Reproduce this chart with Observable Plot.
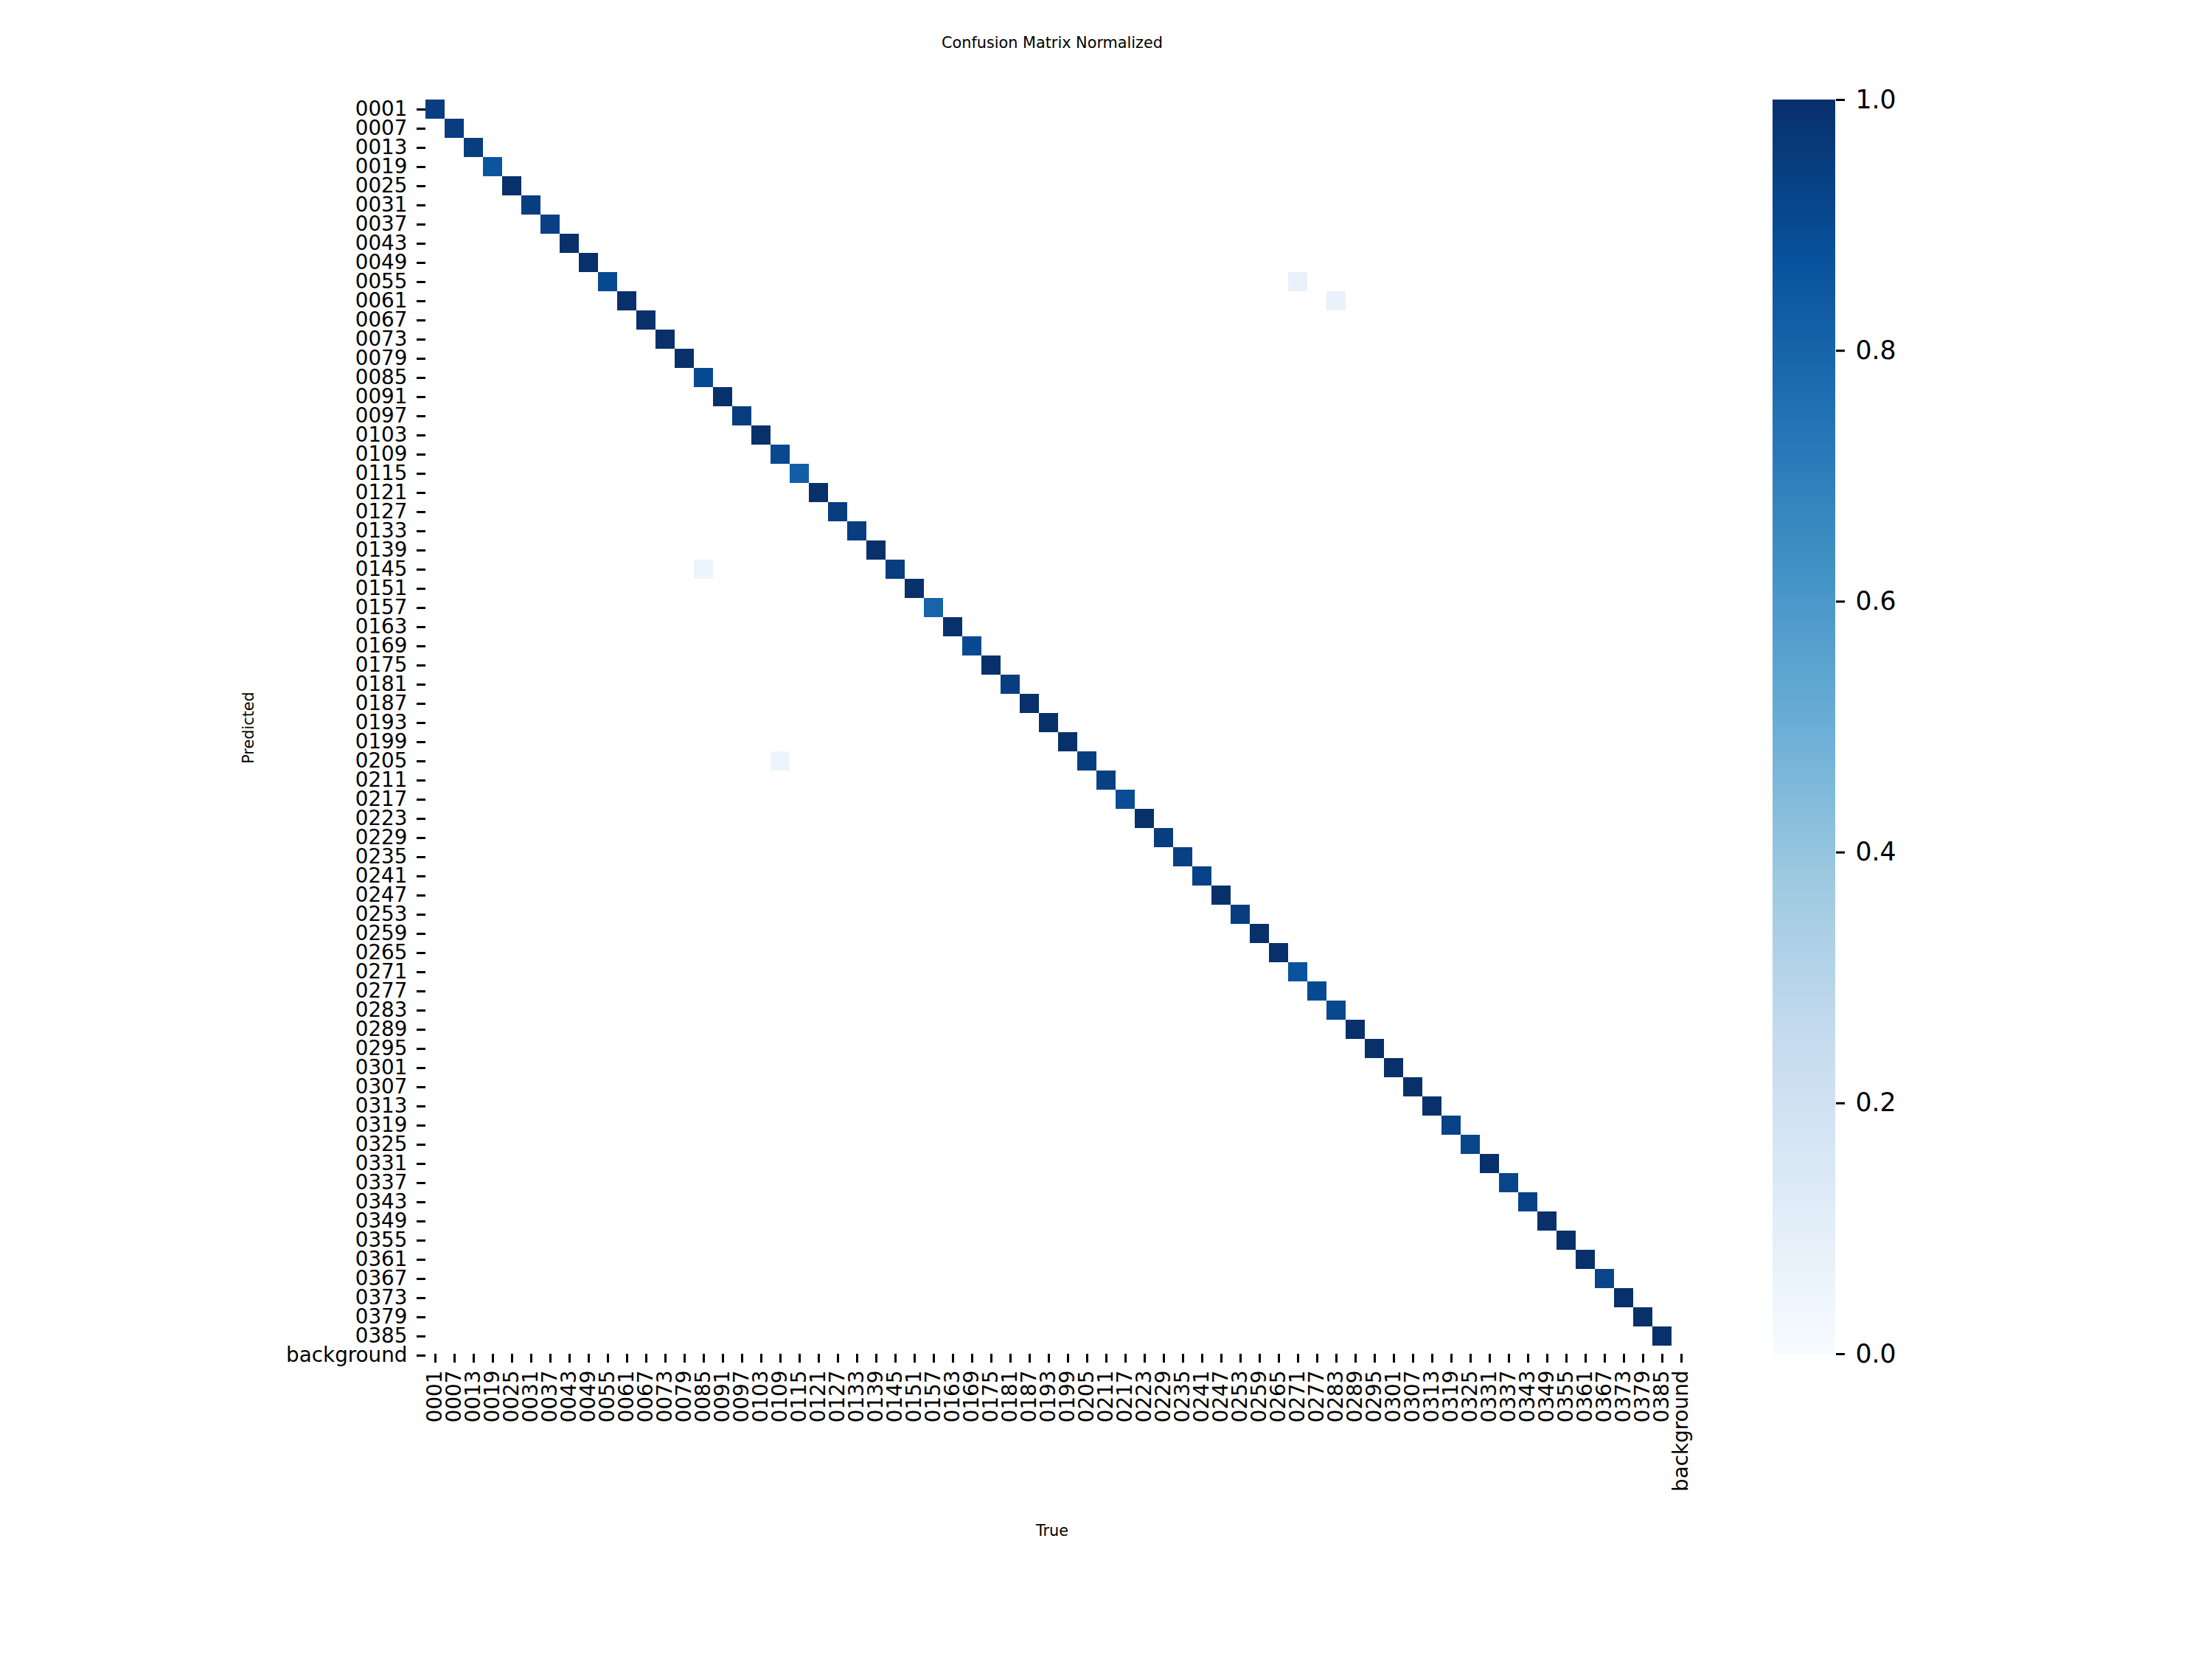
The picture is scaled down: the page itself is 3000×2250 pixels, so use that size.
<!DOCTYPE html>
<html>
<head>
<meta charset="utf-8">
<script src="https://cdn.jsdelivr.net/npm/d3@7"></script>
<script src="https://cdn.jsdelivr.net/npm/@observablehq/plot@0.6"></script>
<style>
  html, body { margin: 0; padding: 0; background: #ffffff; }
  #chart { position: relative; width: 3000px; height: 2250px; font-family: "DejaVu Sans", sans-serif; color: #000; }
  #chart > * { position: absolute; }
  .lbl { font-size: 20.8px; line-height: 20.8px; white-space: nowrap; }
</style>
</head>
<body>
<div id="chart"></div>
<script>
// Category labels (true = columns, predicted = rows)
const classes = [
  "0001","0007","0013","0019","0025","0031","0037","0043","0049","0055",
  "0061","0067","0073","0079","0085","0091","0097","0103","0109","0115",
  "0121","0127","0133","0139","0145","0151","0157","0163","0169","0175",
  "0181","0187","0193","0199","0205","0211","0217","0223","0229","0235",
  "0241","0247","0253","0259","0265","0271","0277","0283","0289","0295",
  "0301","0307","0313","0319","0325","0331","0337","0343","0349","0355",
  "0361","0367","0373","0379","0385","background"
];

// Diagonal values (true == predicted), one per numbered class
const diagValues = [
  0.95, 0.95, 0.95, 0.86, 1.00, 0.95, 0.94, 1.00, 1.00, 0.90,
  1.00, 1.00, 1.00, 1.00, 0.90, 1.00, 0.95, 1.00, 0.91, 0.82,
  1.00, 0.95, 0.95, 1.00, 0.95, 1.00, 0.80, 1.00, 0.90, 1.00,
  0.95, 1.00, 1.00, 1.00, 0.95, 0.94, 0.89, 1.00, 0.95, 0.94,
  0.93, 1.00, 0.95, 1.00, 1.00, 0.87, 0.90, 0.91, 1.00, 1.00,
  1.00, 1.00, 1.00, 0.93, 0.92, 1.00, 0.92, 0.93, 1.00, 1.00,
  1.00, 0.92, 1.00, 1.00, 1.00
];

// Off-diagonal confusions
const offTrue  = ["0271", "0283", "0085", "0109"];
const offPred  = ["0055", "0061", "0145", "0205"];
const offValue = [0.07, 0.07, 0.05, 0.05];

// Colorbar ticks
const cbarTicks = [0.0, 0.2, 0.4, 0.6, 0.8, 1.0];

// Matplotlib "Blues" colormap stops
const bluesStops = [0, 0.125, 0.25, 0.375, 0.5, 0.625, 0.75, 0.875, 1];
const bluesColors = ["#f7fbff","#deebf7","#c6dbef","#9ecae1","#6baed6","#4292c6","#2171b5","#08519c","#08306b"];

const cells = diagValues.map((v, i) => ({t: classes[i], p: classes[i], v}))
  .concat(offTrue.map((t, i) => ({t, p: offPred[i], v: offValue[i]})));

const colorScale = {type: "linear", domain: bluesStops, range: bluesColors, interpolate: "rgb", clamp: true};

const chart = document.getElementById("chart");

const cellSize = 26;
const top0 = 135;
const left0 = 577;

const heat = Plot.plot({
  width: 3000,
  height: 2250,
  marginLeft: left0,
  marginRight: 3000 - (left0 + cellSize * classes.length),
  marginTop: top0,
  marginBottom: 2250 - 1836,
  style: {fontFamily: "DejaVu Sans", background: "transparent", color: "#000", overflow: "visible"},
  x: {type: "band", domain: classes, padding: 0},
  y: {type: "band", domain: classes, padding: 0, range: [top0, top0 + cellSize * classes.length]},
  color: colorScale,
  marks: [
    Plot.cell(cells, {x: "t", y: "p", fill: "v", inset: 0, shapeRendering: "crispEdges"}),
    Plot.axisX({anchor: "bottom", tickRotate: -90, tickSize: 12, tickPadding: 10, fontSize: 27.8, strokeWidth: 3, label: null}),
    Plot.axisY({anchor: "left", tickSize: 12, tickPadding: 13, fontSize: 27.8, strokeWidth: 3, label: null})
  ]
});
heat.style.left = "0px";
heat.style.top = "0px";
chart.appendChild(heat);

// Colorbar
const steps = d3.range(300).map(i => ({lo: i / 300, hi: (i + 1.2) / 300, mid: (i + 0.5) / 300}));
const cbLeft = 2404, cbWidth = 85;
const cbar = Plot.plot({
  width: 3000 - cbLeft,
  height: 2250,
  marginLeft: 0,
  marginRight: 3000 - cbLeft - cbWidth,
  marginTop: top0,
  marginBottom: 2250 - 1836,
  style: {fontFamily: "DejaVu Sans", background: "transparent", color: "#000", overflow: "visible"},
  x: {domain: [0, 1], axis: null},
  y: {domain: [0, 1]},
  color: colorScale,
  marks: [
    Plot.rect(steps, {x1: () => 0, x2: () => 1, y1: d => d.lo, y2: d => Math.min(1, d.hi), fill: d => d.mid, shapeRendering: "crispEdges"}),
    Plot.axisY({anchor: "right", ticks: cbarTicks, tickFormat: d3.format(".1f"), tickSize: 12, tickPadding: 15, fontSize: 34.7, strokeWidth: 3, label: null})
  ]
});
cbar.style.left = cbLeft + "px";
cbar.style.top = "0px";
chart.appendChild(cbar);

// Title and axis labels
function addLabel(text, css) {
  const d = document.createElement("div");
  d.className = "lbl";
  d.textContent = text;
  Object.assign(d.style, css);
  chart.appendChild(d);
}
addLabel("Confusion Matrix Normalized", {left: "1427px", top: "48px", transform: "translateX(-50%)"});
addLabel("True", {left: "1427px", top: "2066px", transform: "translateX(-50%)"});
addLabel("Predicted", {left: "337px", top: "987px", transform: "translate(-50%, -50%) rotate(-90deg)"});
</script>
</body>
</html>
